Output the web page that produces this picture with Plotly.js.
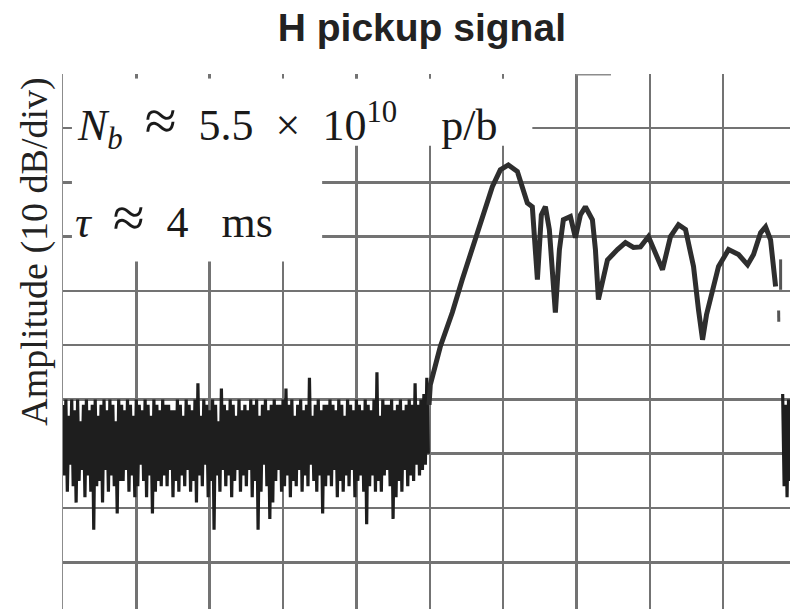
<!DOCTYPE html>
<html>
<head>
<meta charset="utf-8">
<script src="https://cdn.plot.ly/plotly-3.0.1.min.js"></script>
<style>html,body{margin:0;padding:0;background:#fff;}#chart{width:790px;height:609px;}</style>
</head>
<body>
<div id="chart"></div>
<script>
// Sweep is read in screen divisions (10 per width); amplitude in dB (10 dB/div, top of screen = 0 dB)
// Noise floor before the signal (one sample every 0.02 div)
const noiseStep = 0.02;
const noiseY = [
  -61,-74,-60,-77,-63,-72,-60,-76,-62,-79,
  -60,-75,-64,-73,-61,-78,-60,-74,-62,-77,
  -61,-84,-60,-76,-63,-75,-61,-79,-60,-73,
  -62,-77,-60,-74,-61,-76,-64,-81,-60,-75,
  -61,-75,-62,-73,-60,-77,-61,-74,-63,-78,
  -60,-76,-61,-72,-62,-75,-60,-78,-61,-74,
  -63,-81,-60,-77,-61,-75,-62,-76,-60,-74,
  -61,-76,-61,-73,-62,-78,-62,-75,-60,-77,
  -61,-74,-63,-76,-60,-73,-61,-77,-62,-75,
  -60,-79,-57,-74,-63,-76,-60,-72,-61,-78,
  -62,-75,-60,-84,-61,-74,-64,-77,-58,-73,
  -61,-76,-62,-74,-60,-78,-61,-75,-63,-73,
  -60,-77,-62,-74,-61,-76,-62,-73,-60,-78,
  -61,-75,-60,-84,-63,-77,-61,-72,-60,-76,
  -62,-82,-61,-79,-60,-75,-61,-73,-61,-77,
  -60,-76,-58,-74,-61,-78,-60,-75,-63,-76,
  -61,-73,-60,-77,-62,-74,-61,-76,-56,-72,
  -63,-75,-61,-77,-60,-74,-62,-81,-61,-76,
  -61,-74,-60,-76,-61,-73,-62,-78,-60,-75,
  -61,-77,-63,-74,-60,-76,-61,-73,-62,-78,
  -60,-75,-61,-74,-62,-77,-60,-83,-61,-76,
  -62,-74,-60,-77,-55,-75,-63,-77,-60,-74,
  -61,-73,-61,-76,-60,-82,-62,-78,-61,-75,
  -60,-77,-62,-73,-61,-76,-60,-74,-61,-75,
  -57,-72,-61,-74,-60,-73,-59,-72,-56,-70
];
// Noise floor reappearing at the right edge
const noise2Start = 9.81;
const noise2Y = [-59,-76,-61,-78,-60,-75,-62];

// Coherent signal: rise, main peak and notched response
const sigX = [4.99,5.007,5.143,5.307,5.443,5.662,5.853,5.962,6.071,6.194,6.276,6.330,6.398,6.467,6.521,6.576,6.630,6.712,6.767,6.821,6.917,6.985,7.053,7.121,7.217,7.258,7.299,7.353,7.422,7.558,7.667,7.776,7.872,7.981,8.049,8.172,8.281,8.390,8.486,8.595,8.663,8.718,8.772,8.827,8.936,9.072,9.209,9.332,9.413,9.509,9.577,9.645,9.686,9.714];
const sigY = [-61,-57.3,-50.3,-44.0,-37.9,-28.7,-20.8,-17.7,-16.8,-18.0,-21.4,-23.8,-24.5,-37.9,-26.0,-24.5,-28.7,-44.0,-32.4,-26.9,-26.3,-30.2,-26.0,-24.5,-26.9,-32.4,-41.6,-38.1,-34.3,-32.4,-31.1,-32.0,-31.9,-30.0,-32.4,-36.1,-30.0,-27.8,-28.7,-35.5,-43.5,-49.0,-44.4,-41.1,-35.5,-32.4,-33.3,-35.2,-33.3,-29.3,-28.2,-30.6,-35.5,-39.2];
// Broken fragment of the trace before the noise returns
const fragX = [9.782,9.782,null,9.755,9.757];
const fragY = [-34.2,-39.8,null,-43.6,-45.7];

const noiseX = noiseY.map((_, i) => i * noiseStep);
const noise2X = noise2Y.map((_, i) => noise2Start + i * noiseStep);

const traces = [
  {x: noiseX, y: noiseY, type: 'scatter', mode: 'lines', line: {color: '#1e1e1e', width: 3.2}, hoverinfo: 'skip'},
  {x: noise2X, y: noise2Y, type: 'scatter', mode: 'lines', line: {color: '#1e1e1e', width: 3.2}, hoverinfo: 'skip'},
  {x: sigX, y: sigY, type: 'scatter', mode: 'lines', line: {color: '#2e2e2e', width: 5}, hoverinfo: 'skip'},
  {x: fragX, y: fragY, type: 'scatter', mode: 'lines', line: {color: '#555', width: 3}, hoverinfo: 'skip', connectgaps: false}
];

const serif = 'Liberation Serif, Times New Roman, serif';
const sp = '\u00a0';
const approx = '<span style="font-size:58px">\u2248</span>';
const layout = {
  width: 790, height: 609,
  margin: {l: 63, r: 0, t: 74, b: 0, pad: 0},
  paper_bgcolor: '#fff', plot_bgcolor: '#fff',
  showlegend: false,
  title: {text: '<b>H pickup signal</b>', x: 0.534, xanchor: 'center', y: 0.955, yanchor: 'middle', yref: 'container',
          font: {family: 'Liberation Sans, Arial, sans-serif', size: 39, color: '#222'}},
  xaxis: {range: [0.001, 9.91], dtick: 1, tick0: 0, showgrid: true, gridcolor: '#737373', gridwidth: 2.5,
          zeroline: false, showticklabels: false, ticks: '', showline: false, fixedrange: true},
  yaxis: {range: [-98.6, -0.05], dtick: 10, tick0: 0, showgrid: true, gridcolor: '#737373', gridwidth: 2.5,
          zeroline: false, showticklabels: false, ticks: '', showline: true, linecolor: '#8c8c8c', linewidth: 1.5, fixedrange: true},
  shapes: [
    {type: 'rect', layer: 'between', xref: 'x', yref: 'y', x0: 0.164, x1: 6.398, y0: -0.92, y1: -13.26, fillcolor: '#fff', line: {width: 0}},
    {type: 'rect', layer: 'between', xref: 'x', yref: 'y', x0: 0.123, x1: 3.533, y0: -0.92, y1: -34.6, fillcolor: '#fff', line: {width: 0}},
    {type: 'line', layer: 'between', xref: 'x', yref: 'y', x0: 6.99, x1: 7.47, y0: -0.2, y1: -0.2, line: {color: '#8c8c8c', width: 1.5}}
  ],
  annotations: [
    {xref: 'x', yref: 'y', x: 0.164, y: -8.8, xanchor: 'left', yanchor: 'middle', showarrow: false,
     text: '<i>N</i><sub><i>b</i></sub>' + sp + sp + approx + sp + sp + '5.5' + sp + sp + '\u00d7' + sp + sp + '10<sup>10</sup>' + sp + sp + sp + sp + 'p/b',
     font: {family: serif, size: 44, color: '#1a1a1a'}},
    {xref: 'x', yref: 'y', x: 0.136, y: -26.5, xanchor: 'left', yanchor: 'middle', showarrow: false,
     text: '<i>\u03c4</i>' + sp + sp + approx + sp + sp + '4' + sp + sp + sp + 'ms',
     font: {family: serif, size: 44, color: '#1a1a1a'}},
    {xref: 'paper', yref: 'paper', x: -0.0385, y: 0.668, xanchor: 'center', yanchor: 'middle', showarrow: false,
     textangle: -90, text: 'Amplitude (10 dB/div)',
     font: {family: serif, size: 38, color: '#222'}}
  ]
};

Plotly.newPlot('chart', traces, layout, {staticPlot: true, displayModeBar: false});
</script>
</body>
</html>
